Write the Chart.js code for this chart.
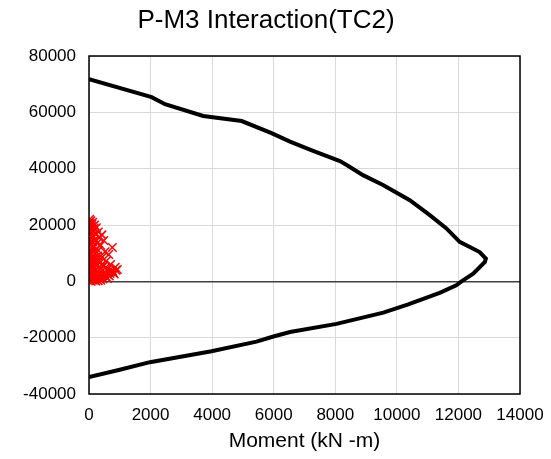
<!DOCTYPE html>
<html>
<head>
<meta charset="utf-8">
<script src="https://cdn.jsdelivr.net/npm/chart.js@4.4.1/dist/chart.umd.min.js"></script>
<style>
  html, body { margin: 0; padding: 0; background: #fff; }
  #wrap { width: 551px; height: 459px; }
</style>
</head>
<body>
<div id="wrap"><canvas id="c" width="551" height="459"></canvas></div>
<script>
// Interaction surface (moment M3 in kN-m, axial force P in kN)
const curveM = [0, 2035, 2470, 3710, 4960, 5930, 6530, 7280, 8150, 8370, 8900, 9550, 10420, 11070, 11610, 12040, 12690, 12890, 12860, 12480, 12100, 11930, 11390, 10370, 9560, 8040, 6530, 5990, 5440, 3980, 1980, 1000, 0];
const curveP = [71800, 65400, 62900, 58700, 56900, 52600, 49600, 46300, 42700, 41300, 37700, 34200, 28800, 23500, 18800, 14000, 10400, 8100, 6900, 2700, 0, -1400, -4100, -8200, -11100, -15100, -18000, -19600, -21400, -24800, -28700, -31400, -34000];

// Demand points (M3, P)
const demandM = [20, 60, 120, 30, 180, 80, 240, 40, 150, 300, 60, 220, 420, 100, 330, 30, 200, 480, 120, 260, 50, 380, 150, 760, 80, 300, 520, 40, 200, 640, 120, 420, 30, 260, 100, 560, 180, 350, 60, 700, 250, 480, 120, 850, 380, 20, 600, 200, 920, 760, 300, 100, 500, 680, 150, 400, 820, 50, 250, 560, 350, 100, 450, 180, 30, 300, 600, 70, 220,
  10, 90, 160, 40, 10, 130, 70, 20, 110, 190, 50, 15, 280, 140, 90, 330, 60, 20, 210, 410, 170, 540, 640, 720, 880, 350, 470, 240, 120, 30, 80, 160, 260, 380, 520, 660, 790, 50, 140, 230];
const demandP = [22000, 21500, 21000, 20500, 20000, 19500, 19000, 18500, 18000, 17500, 17000, 16800, 16500, 16000, 15500, 15000, 14800, 14500, 14000, 13500, 13000, 12800, 12500, 12000, 11500, 11000, 10500, 10000, 9800, 9500, 9000, 8500, 8000, 7800, 7500, 7200, 7000, 6500, 6200, 6000, 5800, 5500, 5200, 5000, 4800, 4500, 4300, 4000, 4200, 3800, 3500, 3200, 3000, 2800, 2500, 2200, 2600, 2000, 1800, 1500, 1200, 1000, 800, 500, 300, 200, 1000, 0, 100,
  21000, 20200, 18800, 17800, 16500, 15800, 14300, 13600, 12200, 11000, 10600, 9300, 9000, 8200, 6800, 7300, 5600, 5100, 6400, 5900, 4600, 4900, 3600, 3300, 3900, 3000, 2400, 2900, 2300, 1600, 1400, 900, 1700, 400, 2100, 1900, 3100, 2700, 600, 1300];

// Axis ranges and tick steps
const xRange = [0, 14000], xStep = 2000;
const yRange = [-40000, 80000], yStep = 20000;

const chartTitle = 'P-M3 Interaction(TC2)';
const xTitle = 'Moment (kN -m)';

const FONT = "'Liberation Sans', Arial, sans-serif";

const curveData = curveM.map((m, i) => ({ x: m, y: curveP[i] }));
const demandData = demandM.map((m, i) => ({ x: m, y: demandP[i] }));

// Outline the full plot box and draw the chart heading
const frame = {
  id: 'frame',
  afterDraw(chart) {
    const { ctx, chartArea: a } = chart;
    ctx.save();
    ctx.strokeStyle = '#000';
    ctx.lineWidth = 1.5;
    ctx.strokeRect(a.left, a.top, a.right - a.left, a.bottom - a.top);
    ctx.fillStyle = '#000';
    ctx.font = '26px ' + FONT;
    ctx.textAlign = 'center';
    ctx.textBaseline = 'alphabetic';
    ctx.fillText(chartTitle, 266, 28);
    ctx.restore();
  }
};

const plain = v => String(v);

new Chart(document.getElementById('c'), {
  type: 'scatter',
  data: {
    datasets: [
      {
        label: 'Demand',
        data: demandData,
        pointStyle: 'crossRot',
        pointRadius: 6,
        pointBorderWidth: 1.5,
        borderColor: '#ff0000',
        backgroundColor: '#ff0000',
        showLine: false,
        order: 0
      },
      {
        label: 'Capacity',
        data: curveData,
        showLine: true,
        borderColor: '#000',
        borderWidth: 4,
        pointRadius: 0,
        tension: 0,
        order: 1
      }
    ]
  },
  options: {
    responsive: false,
    animation: false,
    layout: { padding: { left: 0, right: 31, top: 56, bottom: 0 } },
    plugins: {
      legend: { display: false },
      tooltip: { enabled: false },
      title: { display: false }
    },
    scales: {
      x: {
        type: 'linear',
        min: xRange[0], max: xRange[1],
        ticks: { stepSize: xStep, color: '#000', font: { family: FONT, size: 17 }, padding: 11, maxRotation: 0, callback: plain },
        grid: { color: '#d9d9d9', lineWidth: 1, drawTicks: false },
        border: { display: false },
        title: { display: true, text: xTitle, color: '#000', font: { family: FONT, size: 21 }, padding: { top: 0, bottom: 5 } },
        afterFit(s) { s.height = 65; s.paddingLeft = 0; s.paddingRight = 0; }
      },
      y: {
        type: 'linear',
        min: yRange[0], max: yRange[1],
        ticks: { stepSize: yStep, color: '#000', font: { family: FONT, size: 17 }, padding: 13, callback: plain },
        grid: {
          color: ctx => ctx.tick && ctx.tick.value === 0 ? '#404040' : '#d9d9d9',
          lineWidth: ctx => ctx.tick && ctx.tick.value === 0 ? 1.5 : 1,
          drawTicks: false
        },
        border: { display: false },
        afterFit(s) { s.width = 89; s.paddingTop = 0; s.paddingBottom = 0; }
      }
    }
  },
  plugins: [frame]
});
</script>
</body>
</html>
